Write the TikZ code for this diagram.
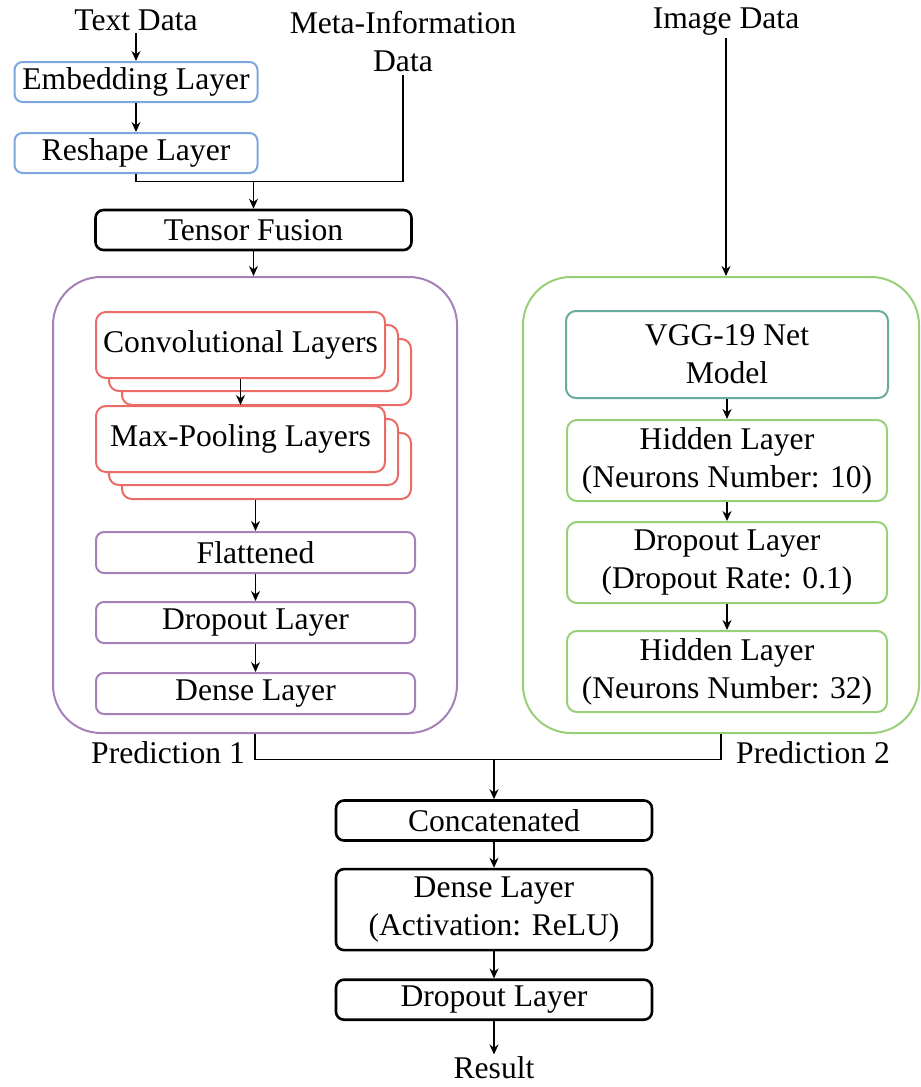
\documentclass[tikz,border=0pt]{standalone}
\usepackage{fontspec}
\setmainfont{Liberation Serif}
\usetikzlibrary{arrows.meta,positioning,calc}
\usepackage{xcolor}

\definecolor{txtblue}{HTML}{7EA6E0}
\definecolor{cnnred}{HTML}{EA6B66}
\definecolor{laypurple}{HTML}{A680B8}
\definecolor{imggreen}{HTML}{97D077}
\definecolor{vggteal}{HTML}{67AB9F}
\newcommand{\figfont}{\fontsize{15.8}{19}\selectfont}

\begin{document}
\begin{tikzpicture}[x=0.5pt, y=-0.5pt,
  lbl/.style={font=\figfont, inner sep=1pt, align=center},
  txt/.style={draw=txtblue, line width=1pt, rounded corners=4pt, fill=white,
    minimum width=121.5pt, minimum height=20pt, inner sep=0pt, font=\figfont},
  blk/.style={draw, line width=1.3pt, rounded corners=4pt, fill=white,
    minimum width=158pt, minimum height=20pt, inner sep=0pt, align=center, font=\figfont},
  cnn/.style={draw=cnnred, line width=1pt, rounded corners=5pt, fill=white,
    minimum width=144.5pt, minimum height=33pt, inner sep=0pt, font=\figfont},
  lay/.style={draw=laypurple, line width=1pt, rounded corners=4pt,
    minimum width=159.5pt, minimum height=20.5pt, inner sep=0pt, font=\figfont},
  img/.style={draw=imggreen, line width=1pt, rounded corners=5pt,
    minimum width=160pt, minimum height=40.5pt, inner sep=0pt, align=center, font=\figfont},
  grp/.style={draw=#1, line width=1pt, rounded corners=24pt, minimum height=228pt, inner sep=0pt},
  arr/.style={-{Stealth[length=5pt,width=4.5pt]}, line width=0.7pt}
]
  \useasboundingbox (0,0) rectangle (921,1087);

  % text branch
  \node[lbl] (textdata) at (136,20) {Text Data};
  \node[txt] (emb) at (136,82) {Embedding Layer};
  \node[txt, below=14.5pt of emb] (resh) {Reshape Layer};
  \node[lbl] (meta) at (403,42) {Meta-Information\\Data};
  \node[blk] (tensor) at (253.5,230) {Tensor Fusion};

  \node[grp=laypurple, minimum width=202pt] (textnet) at (255,505) {};
  \node[grp=imggreen, minimum width=198pt] (imgnet) at (721,505) {};

  \foreach \n/\y/\t in {conv/345/Convolutional Layers, pool/439/Max-Pooling Layers} {
    \node[cnn] (\n3) at (266.5,\y+27) {};
    \node[cnn] (\n2) at (253.5,\y+13) {};
    \node[cnn] (\n) at (240.5,\y) {\t};
  }
  \node[lay] (flat) at (255.5,552.5) {Flattened};
  \node[lay, below=13.5pt of flat] (dropa) {Dropout Layer};
  \node[lay, below=14pt of dropa] (densea) {Dense Layer};

  % image branch
  \node[lbl] (imgdata) at (726,22) {Image Data};
  \node[img, draw=vggteal, minimum width=161pt, minimum height=43.5pt] (vgg) at (727,354.5) {VGG-19 Net\\Model};
  \node[img, below=10pt of vgg] (hida) {Hidden Layer\\(Neurons Number: 10)};
  \node[img, below=9.5pt of hida] (dropb) {Dropout Layer\\(Dropout Rate: 0.1)};
  \node[img, below=13pt of dropb] (hidb) {Hidden Layer\\(Neurons Number: 32)};

  % head
  \node[lbl] (preda) at (168,753) {Prediction 1};
  \node[lbl] (predb) at (813,753) {Prediction 2};
  \node[blk] (concat) at (494,820.5) {Concatenated};
  \node[blk, below=13pt of concat, minimum height=40.5pt] (denseb) {Dense Layer\\(Activation: ReLU)};
  \node[blk, below=13.5pt of denseb] (dropc) {Dropout Layer};
  \node[lbl] (result) at (494,1068) {Result};

  \draw[arr] (textdata) -- (emb);
  \draw[arr] (emb) -- (resh);
  \coordinate (jt) at ([yshift=13.5pt]tensor.north);
  \draw[line width=0.7pt] (resh.south) |- (jt) -| (meta.south);
  \draw[arr] (jt) -- (tensor);
  \draw[arr] (tensor.south) -- (tensor.south |- textnet.north);

  \draw[arr] (conv.south) -- (pool.north);
  \draw[arr] (flat.north |- pool3.south) -- (flat.north);
  \draw[arr] (flat) -- (dropa);
  \draw[arr] (dropa) -- (densea);

  \draw[arr] (imgdata) -- (imgdata |- imgnet.north);
  \foreach \a/\b in {vgg/hida, hida/dropb, dropb/hidb} { \draw[arr] (\a) -- (\b); }

  \coordinate (jb) at ([yshift=20pt]concat.north);
  \draw[line width=0.7pt] (textnet.south) |- (jb) -| (imgnet.south);
  \draw[arr] (jb) -- (concat);
  \draw[arr] (concat) -- (denseb);
  \draw[arr] (denseb) -- (dropc);
  \draw[arr] (dropc) -- (result);
\end{tikzpicture}
\end{document}
